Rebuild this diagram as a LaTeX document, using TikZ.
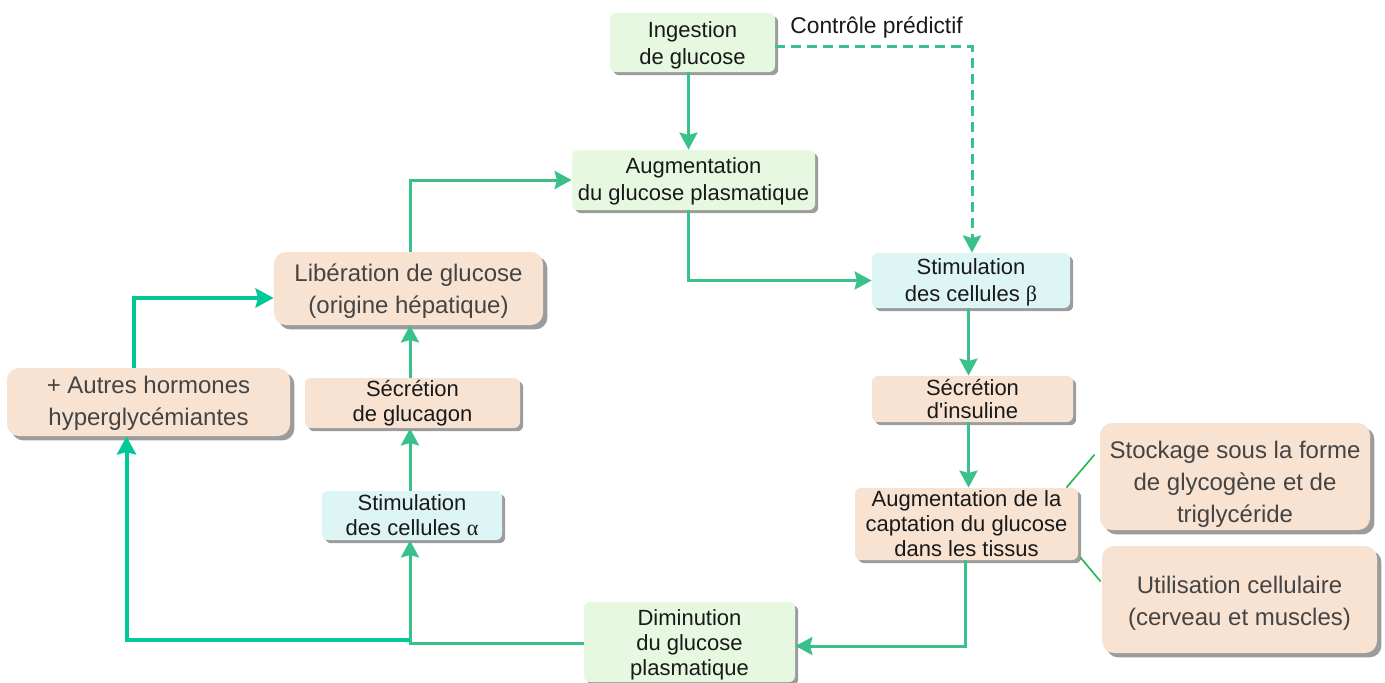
\documentclass[tikz,border=0pt]{standalone}
\usepackage{fontspec}
\setmainfont{Liberation Sans}
\newfontfamily\grk{Liberation Serif}
\usetikzlibrary{arrows.meta,shadows,calc}
\definecolor{lnc}{HTML}{38C28A}
\definecolor{lnb}{HTML}{00C896}
\definecolor{thinc}{HTML}{1DB84E}
\definecolor{gfill}{HTML}{E6F8DF}
\definecolor{cfill}{HTML}{DEF5F6}
\definecolor{pfill}{HTML}{F8E3D3}
\definecolor{shd}{HTML}{9C9C9C}
\definecolor{txtg}{HTML}{444444}
\newcommand{\tdn}[1]{\rule{0pt}{#1}}
\tikzset{
  sbox/.style={rectangle, rounded corners=3pt, inner sep=0pt, align=center,
    font=\fontsize{11}{12.5}\selectfont, text=black!90,
    drop shadow={shadow xshift=1.6pt, shadow yshift=-1.6pt, fill=shd, opacity=1}},
  lbox/.style={rectangle, rounded corners=6pt, inner sep=0pt, align=center,
    font=\fontsize{12}{16}\selectfont, text=txtg, fill=pfill,
    drop shadow={shadow xshift=2.2pt, shadow yshift=-2.2pt, fill=shd, opacity=1}},
  gbox/.style={sbox, fill=gfill},
  cbox/.style={sbox, fill=cfill},
  pbox/.style={sbox, fill=pfill},
  wide/.style={font=\fontsize{11}{13.5}\selectfont},
  tight/.style={font=\fontsize{11}{11.5}\selectfont},
  arr/.style={draw=lnc, line width=1.5pt, -{Stealth[length=8.5pt,width=9pt,inset=1.2pt]}},
  barr/.style={draw=lnb, line width=2pt, -{Stealth[length=9pt,width=9.5pt,inset=1.2pt]}},
  dash arr/.style={arr, dash pattern=on 5pt off 3pt},
  thin/.style={draw=thinc, line width=0.8pt},
}
\begin{document}
\begin{tikzpicture}[x=0.5pt,y=-0.5pt]
\useasboundingbox (0,0) rectangle (1385,682);

\node[gbox, wide, minimum width=82.5pt, minimum height=29.5pt] (ing) at (692.5,42.5) {\tdn{10.5pt}Ingestion\\de glucose};
\node[gbox, wide, minimum width=121.5pt, minimum height=30pt] (aug) at (693.5,180) {\tdn{9.5pt}Augmentation\\du glucose plasmatique};
\node[cbox, wide, minimum width=99pt, minimum height=27.5pt] (stb) at (971,280.5) {\tdn{10pt}Stimulation\\des cellules {\grk β}};
\node[pbox, tight, minimum width=100.5pt, minimum height=23pt] (ins) at (972.5,399) {Sécrétion\\d\textquotesingle insuline};
\node[pbox, minimum width=111.5pt, minimum height=36pt] (cap) at (966.5,524) {Augmentation de la\\captation du glucose\\dans les tissus};
\node[lbox, minimum width=135pt, minimum height=53.5pt] (sto) at (1235,476.5) {\tdn{16.7pt}Stockage sous la forme\\de glycogène et de\\triglycéride};
\node[lbox, minimum width=137.5pt, minimum height=53.5pt] (uti) at (1239.5,599.5) {\tdn{12.7pt}Utilisation cellulaire\\(cerveau et muscles)};
\node[gbox, minimum width=105.5pt, minimum height=40pt] (dim) at (689.5,642) {\tdn{10.5pt}Diminution\\du glucose\\plasmatique};
\node[cbox, minimum width=90pt, minimum height=24.5pt] (sta) at (412,515.5) {Stimulation\\des cellules {\grk α}};
\node[pbox, minimum width=107.5pt, minimum height=25pt] (glu) at (412.5,403) {Sécrétion\\de glucagon};
\node[lbox, minimum width=134.5pt, minimum height=36.5pt] (lib) at (408.5,288.5) {\tdn{11pt}Libération de glucose\\(origine hépatique)};
\node[lbox, minimum width=141.5pt, minimum height=34pt] (aut) at (148.5,402) {\tdn{10pt}+ Autres hormones\\hyperglycémiantes};

\node[font=\fontsize{11.4}{13}\selectfont, text=black!90, anchor=west, inner sep=0pt] (lbl) at (790,27) {Contrôle prédictif};

% connectors
\draw[arr] ($(ing.south)+(-4,0)$) -- ($(aug.north)+(-5,0)$);
\draw[dash arr] ($(ing.east)+(0,4)$) -| ($(stb.north)+(1,0)$);
\draw[arr] ($(aug.south)+(-5,0)$) |- (stb.west);
\coordinate (bx) at ($(stb.south)+(-2.5,0)$);
\draw[arr] (bx) -- (bx |- ins.north);
\draw[arr] (bx |- ins.south) -- (bx |- cap.north);
\draw[arr] ($(cap.south)+(-1,0)$) |- ($(dim.east)+(0,4)$);
\draw[arr] ($(dim.west)+(0,1)$) -| ($(sta.south)+(-2,0)$);
\coordinate (j) at ($(sta.south)+(-2,0)$);
\draw[barr] (j |- 0,640) -| ($(aut.south)+(-22,0)$);
\draw[barr] ($(aut.north)+(-15,0)$) |- (lib.west |- 0,298);
\coordinate (ax) at ($(sta.north)+(-2,0)$);
\draw[arr] (ax) -- (ax |- glu.south);
\draw[arr] (ax |- glu.north) -- (ax |- lib.south);
\draw[arr] (ax |- lib.north) |- (aug.west);
\draw[thin] ($(cap.north east)+(-12,0)$) -- ($(sto.west)+(-5,-22)$);
\draw[thin] ($(cap.south east)+(2,-3)$) -- ($(uti.west)+(-1,-18)$);
\end{tikzpicture}
\end{document}
